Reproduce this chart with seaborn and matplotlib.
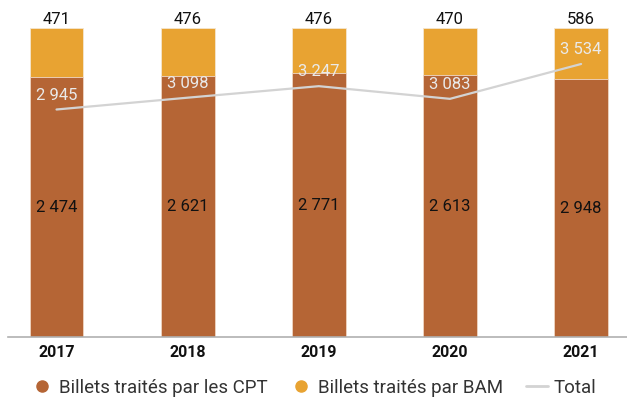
import matplotlib
matplotlib.use("Agg")
import matplotlib.pyplot as plt
import seaborn as sns
import pandas as pd
import numpy as np
from matplotlib.lines import Line2D

years = ["2017", "2018", "2019", "2020", "2021"]
cpt = [2474, 2621, 2771, 2613, 2948]
bam = [471, 476, 476, 470, 586]
total = [2945, 3098, 3247, 3083, 3534]

c_cpt = "#B56535"
c_bam = "#E8A332"
c_line = "#D3D3D3"

sns.set_theme(style="white")
plt.rcParams['font.family'] = ['Roboto', 'DejaVu Sans']

df = pd.DataFrame({"year": years, "cpt": cpt, "bam": bam, "total": total})
df["share_cpt"] = df["cpt"] / df["total"]
df["share_all"] = df["total"] / df["total"]

fig = plt.figure(figsize=(6.27, 4.0), dpi=100)
ax = fig.add_axes([8/627, 63/400, 619/627, 309/400])

sns.barplot(data=df, x="year", y="share_all", color=c_bam, width=0.41,
            saturation=1, ax=ax, edgecolor="#f5e6d0", linewidth=0.6)
sns.barplot(data=df, x="year", y="share_cpt", color=c_cpt, width=0.41,
            saturation=1, ax=ax, edgecolor="#f0d8c8", linewidth=0.6)
ax.set_ylim(0, 1)
ax.set_xlim(-0.37, 4.35)
ax.set_xlabel("")
ax.set_ylabel("")
ax.set_yticks([])
for s in ["top", "right", "left"]:
    ax.spines[s].set_visible(False)
ax.spines["bottom"].set_color("#b0b0b0")
ax.spines["bottom"].set_linewidth(1.2)
ax.tick_params(axis="x", length=0, pad=6, labelsize=11.5)
for lbl in ax.get_xticklabels():
    lbl.set_fontweight("bold")
    lbl.set_color("#111111")

def fmt(v):
    return f"{v:,}".replace(",", " ")

for i in range(len(years)):
    ax.text(i, 1.0 + 0.002, fmt(bam[i]), ha="center", va="bottom",
            fontsize=12, color="#111111")
    ax.text(i, df["share_cpt"][i] / 2, fmt(cpt[i]), ha="center", va="center",
            fontsize=12, color="#111111")

ax2 = ax.twinx()
sns.lineplot(data=df, x="year", y="total", color=c_line, linewidth=1.6,
             ax=ax2, sort=False)
ax2.set_ylim(0, 4000)
ax2.set_xlim(-0.37, 4.35)
ax2.set_yticks([])
ax2.set_ylabel("")
ax2.set_xlabel("")
for s in ["top", "right", "left", "bottom"]:
    ax2.spines[s].set_visible(False)
for i in range(len(years)):
    ax2.annotate(fmt(total[i]), (i, total[i]), xytext=(0, 5),
                 textcoords="offset points", ha="center", va="bottom",
                 fontsize=12, color="#EAEAEA")

handles = [
    Line2D([0], [0], marker="o", color="none", markerfacecolor=c_cpt,
           markeredgecolor=c_cpt, markersize=8),
    Line2D([0], [0], marker="o", color="none", markerfacecolor=c_bam,
           markeredgecolor=c_bam, markersize=8),
    Line2D([0], [0], color=c_line, linewidth=2),
]
fig.legend(handles, ["Billets traités par les CPT", "Billets traités par BAM", "Total"],
           loc="center", bbox_to_anchor=(0.5, 0.03), ncol=3, frameon=False,
           fontsize=13.5, handlelength=1.2, handletextpad=0.3, columnspacing=1.2,
           labelcolor="#333333")

fig.savefig("out.png", dpi=100)
